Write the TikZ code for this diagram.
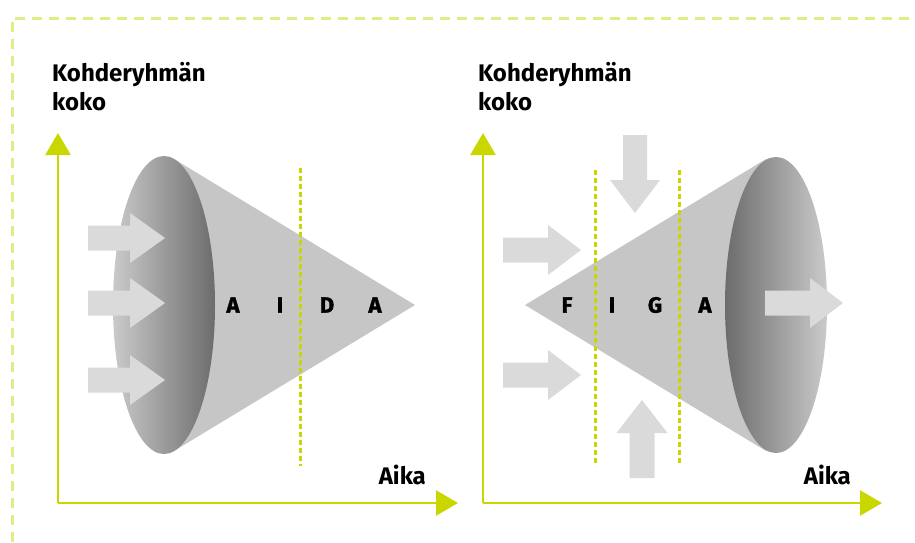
\documentclass[tikz,border=0pt]{standalone}
\usepackage{fontspec}
\setmainfont{Fira Sans}
\newfontfamily\heavyfont{Fira Sans}[BoldFeatures={FakeBold=1.5}]
\usetikzlibrary{arrows.meta}
\definecolor{frameyel}{HTML}{E2EC84}
\definecolor{axisyel}{HTML}{C9D600}
\definecolor{conegray}{HTML}{C6C6C6}
\definecolor{arrowgray}{HTML}{DADADA}
\definecolor{shlight}{HTML}{CACACA}
\definecolor{shdark}{HTML}{6C6C6C}
\tikzset{
  framestyle/.style={draw=frameyel, line width=3pt, dash pattern=on 10pt off 7pt},
  axisstyle/.style={draw=axisyel, line width=2.6pt, -{Triangle[length=22pt,width=25pt]}},
  phaseline/.style={draw=axisyel, line width=3pt, dash pattern=on 5pt off 3pt},
  conebody/.style={fill=conegray, draw=none},
  blockarrow/.style={fill=arrowgray, draw=none},
  axislabel/.style={font=\fontsize{24}{27}\selectfont\bfseries, inner sep=0pt},
  phaselabel/.style={font=\heavyfont\fontsize{22}{25}\selectfont\bfseries, inner sep=0pt, anchor=center},
}
\begin{document}
\begin{tikzpicture}[x=1pt,y=-1pt]
\useasboundingbox (0,0) rectangle (915,542);
% frame
\draw[framestyle] (12,542) -- (12,18) -- (915,18);

% ===== left panel =====
\coordinate (LO) at (58,503);
\coordinate (LY) at (58,133);
\coordinate (LX) at (458,503);
% cone body
\fill[conebody] (415,305) -- (174,159) -- (164,305) -- (174,451) -- cycle;
% phase line
\coordinate (Lp1t) at (300,168);
\coordinate (Lp1b) at (300,466);
\draw[phaseline] (Lp1t) -- (Lp1b);
% ellipse face
\shade[left color=shlight, right color=shdark] (164,305) ellipse [x radius=51pt, y radius=149pt];
% incoming arrows
\foreach \yy in {238,303,380}{
  \fill[blockarrow] (88,\yy-12.5) -- (130,\yy-12.5) -- (130,\yy-25) -- (165,\yy) -- (130,\yy+25) -- (130,\yy+12.5) -- (88,\yy+12.5) -- cycle;
}
% letters
\node[phaselabel] (LA1) at (233,305) {A};
\node[phaselabel] (LI) at (280,305) {I};
\node[phaselabel] (LD) at (327,305) {D};
\node[phaselabel] (LA2) at (375,305) {A};
% axes
\draw[axisstyle] (LO) -- (LY);
\draw[axisstyle] (LO) -- (LX);
\node[axislabel, anchor=base west] (Lk1) at (52,81) {Kohderyhmän};
\node[axislabel, anchor=base west] (Lk2) at (52,110) {koko};
\node[axislabel, anchor=base east] (Lt) at (426,484) {Aika};

% ===== right panel =====
\coordinate (RO) at (483,503);
\coordinate (RY) at (483,133);
\coordinate (RX) at (882,503);
\fill[conebody] (525,305) -- (766,159) -- (776,305) -- (766,451) -- cycle;
\coordinate (Rp1t) at (595,170);
\coordinate (Rp1b) at (595,466);
\coordinate (Rp2t) at (679,170);
\coordinate (Rp2b) at (679,466);
\draw[phaseline] (Rp1t) -- (Rp1b);
\draw[phaseline] (Rp2t) -- (Rp2b);
\shade[left color=shdark, right color=shlight] (776,305) ellipse [x radius=51pt, y radius=148pt];
% arrows from the left
\foreach \yy in {250,375}{
  \fill[blockarrow] (503,\yy-12.5) -- (548,\yy-12.5) -- (548,\yy-25) -- (581,\yy) -- (548,\yy+25) -- (548,\yy+12.5) -- (503,\yy+12.5) -- cycle;
}
% outgoing arrow
\fill[blockarrow] (765,303-12.5) -- (810,303-12.5) -- (810,303-25) -- (843,303) -- (810,303+25) -- (810,303+12.5) -- (765,303+12.5) -- cycle;
% down arrow
\fill[blockarrow] (635-12,135) -- (635-12,180) -- (635-25,180) -- (635,213) -- (635+25,180) -- (635+12,180) -- (635+12,135) -- cycle;
% up arrow
\fill[blockarrow] (642-12.5,478) -- (642-12.5,433) -- (642-25.5,433) -- (642,400) -- (642+25.5,433) -- (642+12.5,433) -- (642+12.5,478) -- cycle;
% letters
\node[phaselabel] (RF) at (567,305) {F};
\node[phaselabel] (RI) at (612,305) {I};
\node[phaselabel] (RG) at (655,305) {G};
\node[phaselabel] (RA) at (705,305) {A};
% axes
\draw[axisstyle] (RO) -- (RY);
\draw[axisstyle] (RO) -- (RX);
\node[axislabel, anchor=base west] (Rk1) at (478,81) {Kohderyhmän};
\node[axislabel, anchor=base west] (Rk2) at (478,110) {koko};
\node[axislabel, anchor=base east] (Rt) at (851,484) {Aika};
\end{tikzpicture}
\end{document}
